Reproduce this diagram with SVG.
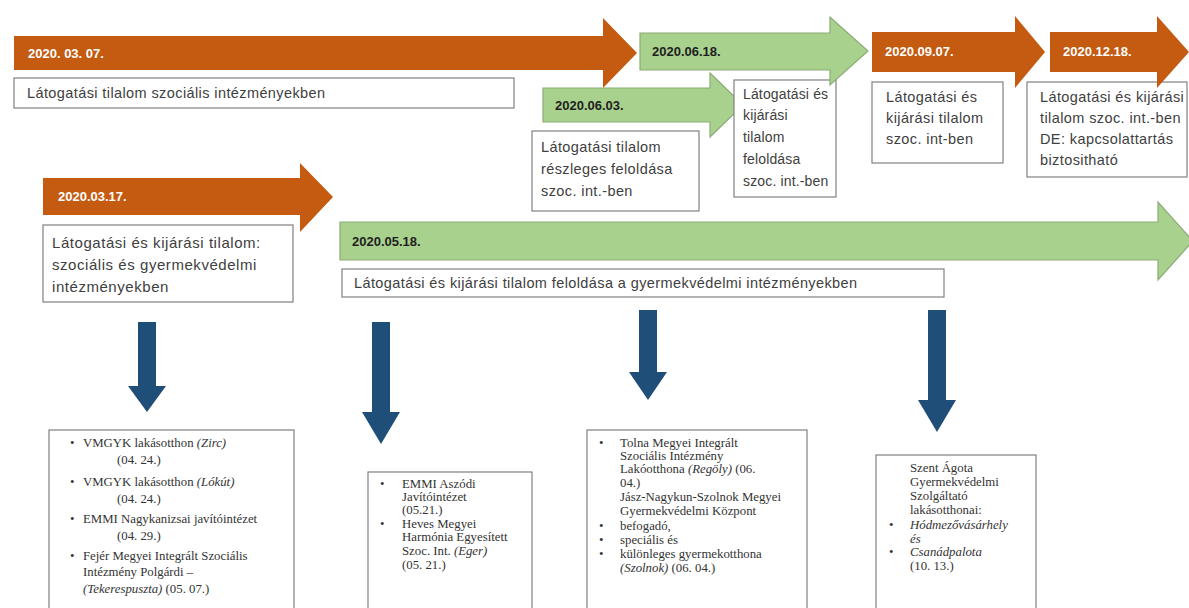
<svg xmlns="http://www.w3.org/2000/svg" width="1189" height="608" viewBox="0 0 1189 608">
<style>
.box{fill:#fff;stroke:#808080;stroke-width:1.2}
.t{font-family:"Liberation Sans",Arial,sans-serif;font-size:14.5px;letter-spacing:0.4px;fill:#404040}
.tn{font-family:"Liberation Sans",Arial,sans-serif;font-size:14px;letter-spacing:0.15px;fill:#404040}
.tw{font-family:"Liberation Sans",Arial,sans-serif;font-size:15px;letter-spacing:0.55px;fill:#404040}
.do{font-family:"Liberation Sans",Arial,sans-serif;font-weight:bold;font-size:13px;fill:#fff}
.dg{font-family:"Liberation Sans",Arial,sans-serif;font-weight:bold;font-size:13px;fill:#1e1e1e}
.s{font-family:"Liberation Serif","Times New Roman",serif;font-size:12.8px;fill:#333}
.i{font-style:italic}
.orange{fill:#C55A11}
.green{fill:#A9D18E;stroke:#8CAB76;stroke-width:1.2}
.blue{fill:#1F4E79}
</style>
<rect width="1189" height="608" fill="#fff"/>

<g id="n-0307">
<polygon class="orange" points="14,36 603,36 603,18 637,53 603,88 603,70 14,70"/>
<text class="do" x="28" y="58">2020. 03. 07.</text>
<rect class="box" x="14" y="78" width="500" height="30"/>
<text class="t" x="27" y="98">Látogatási tilalom szociális intézményekben</text>
</g>

<g id="n-0603">
<rect class="box" x="532" y="131" width="167" height="80"/>
<text class="t" x="541" y="152">Látogatási tilalom</text>
<text class="t" x="541" y="174">részleges feloldása</text>
<text class="t" x="541" y="196">szoc. int.-ben</text>
<polygon class="green" points="543,88 710,88 710,73 743,105 710,137 710,122 543,122"/>
<text class="dg" x="555" y="110">2020.06.03.</text>
</g>

<g id="n-0618">
<rect class="box" x="734" y="80" width="102" height="117"/>
<text class="tn" x="743" y="99">Látogatási és</text>
<text class="tn" x="743" y="120">kijárási</text>
<text class="tn" x="743" y="142">tilalom</text>
<text class="tn" x="743" y="164">feloldása</text>
<text class="tn" x="743" y="186">szoc. int.-ben</text>
<polygon class="green" points="640,33 830,33 830,17 868,51 830,85 830,70 640,70"/>
<text class="dg" x="652" y="56">2020.06.18.</text>
</g>

<g id="n-0907">
<rect class="box" x="872" y="82" width="131" height="81"/>
<text class="t" x="886" y="102">Látogatási és</text>
<text class="t" x="886" y="123">kijárási tilalom</text>
<text class="t" x="886" y="144">szoc. int-ben</text>
<polygon class="orange" points="872,32 1015,32 1015,16 1045,52 1015,88 1015,72 872,72"/>
<text class="do" x="885" y="56">2020.09.07.</text>
</g>

<g id="n-1218">
<rect class="box" x="1027" y="82" width="160" height="95"/>
<text class="t" x="1040" y="102">Látogatási és kijárási</text>
<text class="t" x="1040" y="123">tilalom szoc. int.-ben</text>
<text class="t" x="1040" y="144">DE: kapcsolattartás</text>
<text class="t" x="1040" y="165">biztositható</text>
<polygon class="orange" points="1050,32 1157,32 1157,16 1189,52 1157,88 1157,72 1050,72"/>
<text class="do" x="1063" y="56">2020.12.18.</text>
</g>

<g id="n-0317">
<polygon class="orange" points="43,178 300,178 300,163 333,197 300,232 300,215 43,215"/>
<text class="do" x="58" y="201">2020.03.17.</text>
<rect class="box" x="43" y="225" width="250" height="77"/>
<text class="tw" x="52" y="248">Látogatási és kijárási tilalom:</text>
<text class="tw" x="52" y="270">szociális és gyermekvédelmi</text>
<text class="tw" x="52" y="292">intézményekben</text>
</g>

<g id="n-0518">
<polygon class="green" points="340,222 1158,222 1158,202 1193,241 1158,280 1158,260 340,260"/>
<text class="dg" x="352" y="246">2020.05.18.</text>
<rect class="box" x="342" y="269" width="602" height="28"/>
<text class="t" x="354" y="288">Látogatási és kijárási tilalom feloldása a gyermekvédelmi intézményekben</text>
</g>

<g id="connectors">
<polygon class="blue" points="138,322 156,322 156,386 166,386 147,412 128,386 138,386"/>
<polygon class="blue" points="372,322 390,322 390,412 400,412 381,444 362,412 372,412"/>
<polygon class="blue" points="639,310 657,310 657,372 667,372 648,400 629,372 639,372"/>
<polygon class="blue" points="928,310 946,310 946,400 956,400 937,432 918,400 928,400"/>
</g>

<g id="list-a">
<rect class="box" x="49" y="430" width="245" height="185"/>
<text class="s" x="70" y="447">•</text><text class="s" x="83" y="447">VMGYK lakásotthon <tspan class="i">(Zirc)</tspan></text>
<text class="s" x="117" y="464">(04. 24.)</text>
<text class="s" x="70" y="486">•</text><text class="s" x="83" y="486">VMGYK lakásotthon <tspan class="i">(Lókút)</tspan></text>
<text class="s" x="117" y="503">(04. 24.)</text>
<text class="s" x="70" y="523">•</text><text class="s" x="83" y="523">EMMI Nagykanizsai javítóintézet</text>
<text class="s" x="117" y="540">(04. 29.)</text>
<text class="s" x="70" y="560">•</text><text class="s" x="83" y="560">Fejér Megyei Integrált Szociális</text>
<text class="s" x="83" y="576">Intézmény Polgárdi –</text>
<text class="s" x="83" y="593"><tspan class="i">(Tekerespuszta)</tspan> (05. 07.)</text>
</g>

<g id="list-b">
<rect class="box" x="368" y="472" width="164" height="145"/>
<text class="s" x="380" y="488">•</text><text class="s" x="402" y="488">EMMI Aszódi</text>
<text class="s" x="402" y="501">Javítóintézet</text>
<text class="s" x="402" y="514">(05.21.)</text>
<text class="s" x="380" y="528">•</text><text class="s" x="402" y="528">Heves Megyei</text>
<text class="s" x="402" y="541">Harmónia Egyesített</text>
<text class="s" x="402" y="555">Szoc. Int. <tspan class="i">(Eger)</tspan></text>
<text class="s" x="402" y="569">(05. 21.)</text>
</g>

<g id="list-c">
<rect class="box" x="587" y="430" width="220" height="185"/>
<text class="s" x="599" y="447">•</text><text class="s" x="620" y="447">Tolna Megyei Integrált</text>
<text class="s" x="620" y="460">Szociális Intézmény</text>
<text class="s" x="620" y="473">Lakóotthona <tspan class="i">(Regöly)</tspan>    (06.</text>
<text class="s" x="620" y="487">04.)</text>
<text class="s" x="620" y="501">Jász-Nagykun-Szolnok Megyei</text>
<text class="s" x="620" y="515">Gyermekvédelmi Központ</text>
<text class="s" x="599" y="530">•</text><text class="s" x="620" y="530">befogadó,</text>
<text class="s" x="599" y="544">•</text><text class="s" x="620" y="544">speciális és</text>
<text class="s" x="599" y="558">•</text><text class="s" x="620" y="558">különleges gyermekotthona</text>
<text class="s" x="620" y="572"><tspan class="i">(Szolnok)</tspan> (06. 04.)</text>
</g>

<g id="list-d">
<rect class="box" x="876" y="455" width="160" height="160"/>
<text class="s" x="910" y="472">Szent Ágota</text>
<text class="s" x="910" y="486">Gyermekvédelmi</text>
<text class="s" x="910" y="500">Szolgáltató</text>
<text class="s" x="910" y="514">lakásotthonai:</text>
<text class="s" x="889" y="529">•</text><text class="s i" x="910" y="529">Hódmezővásárhely</text>
<text class="s i" x="910" y="543">és</text>
<text class="s" x="889" y="556">•</text><text class="s i" x="910" y="556">Csanádpalota</text>
<text class="s" x="910" y="570">(10. 13.)</text>
</g>
</svg>
